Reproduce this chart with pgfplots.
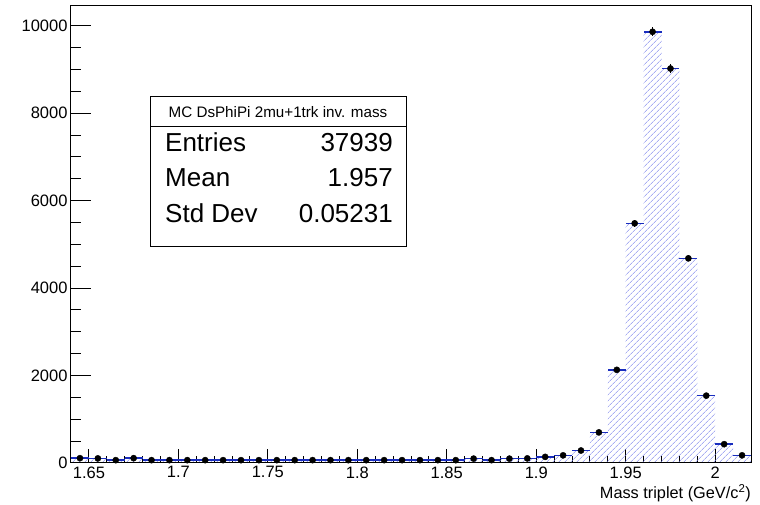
\documentclass[border=0pt]{standalone}
\usepackage{fontspec}
\setmainfont{Liberation Sans}
\usepackage{pgfplots}
\usepackage{pgfplotstable}
\pgfplotsset{compat=1.18}
\usetikzlibrary{patterns.meta}
\definecolor{hatchblue}{RGB}{120,128,235}
\definecolor{rootblue}{RGB}{25,45,190}

\pgfplotstableread{
x y ey
1.645 110 10.5
1.655 105 10.2
1.665 65 8.1
1.675 110 10.5
1.685 65 8.1
1.695 65 8.1
1.705 65 8.1
1.715 65 8.1
1.725 65 8.1
1.735 65 8.1
1.745 65 8.1
1.755 65 8.1
1.765 65 8.1
1.775 65 8.1
1.785 65 8.1
1.795 65 8.1
1.805 65 8.1
1.815 65 8.1
1.825 65 8.1
1.835 65 8.1
1.845 65 8.1
1.855 65 8.1
1.865 100 10.0
1.875 65 8.1
1.885 100 10.0
1.895 105 10.2
1.905 140 11.8
1.915 175 13.2
1.925 285 16.9
1.935 700 26.5
1.945 2130 46.2
1.955 5480 74.0
1.965 9860 99.3
1.975 9020 95.0
1.985 4680 68.4
1.995 1540 39.2
2.005 430 20.7
2.015 175 13.2
}\hist

\pgfplotsset{
  rootframe/.style={
    at={(0,0)}, anchor=south west,
    scale only axis, width=680pt, height=457pt,
    xmin=1.64, xmax=2.02, ymin=0, ymax=10450,
    tick pos=left, tick align=inside,
    axis line style={black, line width=1pt},
    every tick/.style={black, line width=1pt},
    tick label style={font=\fontsize{16.5}{18}\selectfont},
    /pgf/number format/assume math mode=true,
  }
}

\begin{document}
\begin{tikzpicture}
\begin{axis}[
  rootframe, name=ax,
  xtick={1.65,1.7,1.75,1.8,1.85,1.9,1.95,2},
  xticklabels={1.65,1.7,1.75,1.8,1.85,1.9,1.95,2},
  minor x tick num=4,
  ytick=\empty,
  major tick length=13.7pt, minor tick length=6.9pt,
  xlabel={Mass triplet (GeV/c\textsuperscript{2})},
  xlabel style={at={(rel axis cs:1,0)}, anchor=north east, yshift=-21pt, inner sep=0pt,
    font=\fontsize{16.3}{18}\selectfont},
]
\addplot[ybar, bar width=0.01, bar shift=0pt, draw=none,
  pattern={Lines[angle=45, distance=4pt, line width=0.6pt]}, pattern color=hatchblue]
  table[x=x, y=y] {\hist};
\addplot[draw=none, mark=none,
  error bars/.cd, x dir=both, x fixed=0.005, error mark=none,
  error bar style={draw=rootblue, line width=1.6pt}]
  table[x=x, y=y] {\hist};
\addplot[only marks, mark=*, mark size=3.1pt, black,
  error bars/.cd, y dir=both, y explicit, error mark=none,
  error bar style={black, line width=1pt}]
  table[x=x, y=y, y error=ey] {\hist};
\end{axis}
\begin{axis}[
  rootframe,
  xtick=\empty,
  ytick={0,2000,4000,6000,8000,10000},
  yticklabels={0,2000,4000,6000,8000,10000},
  minor y tick num=3,
  major tick length=20.4pt, minor tick length=10.2pt,
]
\end{axis}
\begin{scope}[shift={(ax.south west)}]
  \draw[line width=1pt, fill=white] (79pt,216pt) rectangle (335pt,366pt);
  \draw[line width=1pt] (79pt,336pt) -- (335pt,336pt);
  \node[font=\fontsize{15.2}{17}\selectfont, inner sep=0pt] at (207pt,351pt) {MC DsPhiPi 2mu+1trk inv. mass};
  \node[font=\fontsize{26}{28}\selectfont, anchor=base west, inner sep=0pt] at (94pt,311.3pt) {Entries};
  \node[font=\fontsize{26}{28}\selectfont, anchor=base east, inner sep=0pt] at (322pt,311.3pt) {37939};
  \node[font=\fontsize{26}{28}\selectfont, anchor=base west, inner sep=0pt] at (94pt,276pt) {Mean};
  \node[font=\fontsize{26}{28}\selectfont, anchor=base east, inner sep=0pt] at (322pt,276pt) {1.957};
  \node[font=\fontsize{26}{28}\selectfont, anchor=base west, inner sep=0pt] at (94pt,240.3pt) {Std Dev};
  \node[font=\fontsize{26}{28}\selectfont, anchor=base east, inner sep=0pt] at (322pt,240.3pt) {0.05231};
\end{scope}
\pgfresetboundingbox
\path[use as bounding box] (ax.south west) ++(-71pt,-42pt) rectangle ++(760pt,505pt);
\end{tikzpicture}
\end{document}
